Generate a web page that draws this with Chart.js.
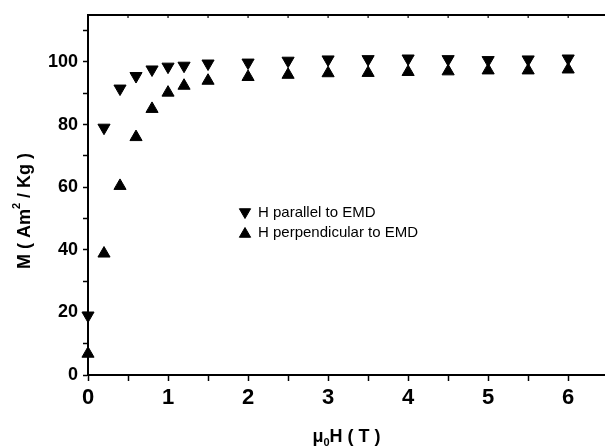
<!DOCTYPE html>
<html lang="en">
<head>
<meta charset="UTF-8">
<title>Magnetization vs field</title>
<style>
    body { margin: 0; padding: 0; background: #ffffff; }
    #wrap { width: 605px; height: 448px; position: relative; }
</style>
</head>
<body>
<div id="wrap"><canvas id="chart" width="605" height="448"></canvas></div>

<script src="https://cdn.jsdelivr.net/npm/chart.js"></script>
<script>
// field values (T)
const fieldT = [0, 0.2, 0.4, 0.6, 0.8, 1.0, 1.2, 1.5, 2, 2.5, 3, 3.5, 4, 4.5, 5, 5.5, 6];
// magnetization (Am2/Kg)
const mParallel = [19.0, 79.0, 91.5, 95.5, 97.6, 98.5, 98.8, 99.5, 99.8, 100.4, 100.8, 100.9, 101.1, 100.9, 100.6, 100.8, 101.1];
const mPerpendicular = [6.8, 38.8, 60.4, 76.0, 85.0, 90.2, 92.4, 94.0, 95.2, 95.9, 96.4, 96.5, 96.8, 97.0, 97.3, 97.3, 97.6];
const seriesLabels = ['H parallel to EMD', 'H perpendicular to EMD'];
const xLabelTicks = [0, 1, 2, 3, 4, 5, 6];
const yLabelTicks = [0, 20, 40, 60, 80, 100];

const FONT = '"Liberation Sans", Arial, Helvetica, sans-serif';

function toPoints(xs, ys) {
    return xs.map((x, i) => ({ x: x, y: ys[i] }));
}

// titles, legend and the top frame line
const decorations = {
    id: 'decorations',
    afterDraw(chart) {
        const ctx = chart.ctx;
        const area = chart.chartArea;
        const xs = chart.scales.x;
        ctx.save();
        ctx.fillStyle = '#000';
        ctx.strokeStyle = '#000';

        // top frame with small inward ticks
        ctx.lineWidth = 2;
        ctx.beginPath();
        ctx.moveTo(area.left, area.top);
        ctx.lineTo(area.right, area.top);
        ctx.stroke();
        ctx.lineWidth = 1.2;
        for (let v = 0.5; v <= 6.4; v += 0.5) {
            const px = xs.getPixelForValue(v);
            ctx.beginPath();
            ctx.moveTo(px, area.top);
            ctx.lineTo(px, area.top + 3);
            ctx.stroke();
        }

        // x title: mu_0 H ( T )
        ctx.textBaseline = 'middle';
        const big = 'bold 18px ' + FONT;
        const small = 'bold 11px ' + FONT;
        ctx.font = big;
        const wMu = ctx.measureText('\u03bc').width;
        const wRest = ctx.measureText('H ( T )').width;
        ctx.font = small;
        const wSub = ctx.measureText('0').width;
        let x0 = (area.left + area.right) / 2 - (wMu + wSub + wRest) / 2;
        const yT = 437;
        ctx.textAlign = 'left';
        ctx.font = big;
        ctx.fillText('\u03bc', x0, yT);
        ctx.font = small;
        ctx.fillText('0', x0 + wMu, yT + 6);
        ctx.font = big;
        ctx.fillText('H ( T )', x0 + wMu + wSub, yT);

        // y title: M ( Am^2 / Kg )
        ctx.save();
        ctx.translate(23, 211);
        ctx.rotate(-Math.PI / 2);
        const yBig = 'bold 18px ' + FONT;
        const ySmall = 'bold 11px ' + FONT;
        ctx.font = yBig;
        const wA = ctx.measureText('M ( Am').width;
        const wB = ctx.measureText(' / Kg )').width;
        ctx.font = ySmall;
        const wS = ctx.measureText('2').width;
        let sx = -(wA + wS + wB) / 2;
        ctx.font = yBig;
        ctx.fillText('M ( Am', sx, 2);
        ctx.font = ySmall;
        ctx.fillText('2', sx + wA, -6);
        ctx.font = yBig;
        ctx.fillText(' / Kg )', sx + wA + wS, 2);
        ctx.restore();

        // legend
        ctx.font = '15px ' + FONT;
        const rows = [213, 233];
        chart.data.datasets.forEach((ds, i) => {
            const style = {
                pointStyle: 'triangle',
                rotation: ds.pointRotation,
                radius: 6.5,
                borderWidth: 1
            };
            ctx.fillStyle = '#000';
            ctx.strokeStyle = '#000';
            ctx.lineWidth = 1;
            Chart.helpers.drawPoint(ctx, style, 245, rows[i] + (ds.pointRotation ? -1 : 1));
            ctx.fillText(ds.label, 258, rows[i]);
        });
        ctx.restore();
    }
};

new Chart(document.getElementById('chart').getContext('2d'), {
    type: 'scatter',
    data: {
        datasets: [
            {
                label: seriesLabels[0],
                data: toPoints(fieldT, mParallel),
                pointStyle: 'triangle',
                pointRotation: 180,
                pointRadius: 7,
                pointBorderWidth: 1,
                backgroundColor: '#000',
                borderColor: '#000',
                clip: false
            },
            {
                label: seriesLabels[1],
                data: toPoints(fieldT, mPerpendicular),
                pointStyle: 'triangle',
                pointRotation: 0,
                pointRadius: 7,
                pointBorderWidth: 1,
                backgroundColor: '#000',
                borderColor: '#000',
                clip: false
            }
        ]
    },
    options: {
        responsive: false,
        animation: false,
        layout: { autoPadding: false, padding: { top: 15, right: 0, left: 0, bottom: 0 } },
        plugins: {
            legend: { display: false },
            tooltip: { enabled: false }
        },
        scales: {
            x: {
                type: 'linear',
                min: 0,
                max: 6.46,
                afterFit(scale) {
                    scale.height = 73;
                    scale.paddingLeft = 0;
                    scale.paddingRight = 0;
                },
                border: { display: true, color: '#000', width: 2 },
                grid: {
                    drawOnChartArea: false,
                    drawTicks: true,
                    tickLength: 6,
                    tickWidth: 1.5,
                    tickColor: '#000'
                },
                ticks: {
                    stepSize: 0.5,
                    includeBounds: false,
                    autoSkip: false,
                    maxRotation: 0,
                    padding: 4,
                    color: '#000',
                    font: { family: FONT, size: 22, weight: 'bold' },
                    callback: (v) => xLabelTicks.includes(v) ? String(v) : ''
                }
            },
            y: {
                type: 'linear',
                min: 0,
                max: 115,
                afterFit(scale) {
                    scale.width = 88;
                    scale.paddingTop = 0;
                    scale.paddingBottom = 0;
                },
                border: { display: true, color: '#000', width: 2 },
                grid: {
                    drawOnChartArea: false,
                    drawTicks: true,
                    tickLength: 5,
                    tickWidth: 1.5,
                    tickColor: '#000'
                },
                ticks: {
                    stepSize: 10,
                    includeBounds: false,
                    autoSkip: false,
                    padding: 5,
                    color: '#000',
                    font: { family: FONT, size: 18, weight: 'bold' },
                    callback: (v) => yLabelTicks.includes(v) ? String(v) : ''
                }
            }
        }
    },
    plugins: [decorations]
});
</script>
</body>
</html>
